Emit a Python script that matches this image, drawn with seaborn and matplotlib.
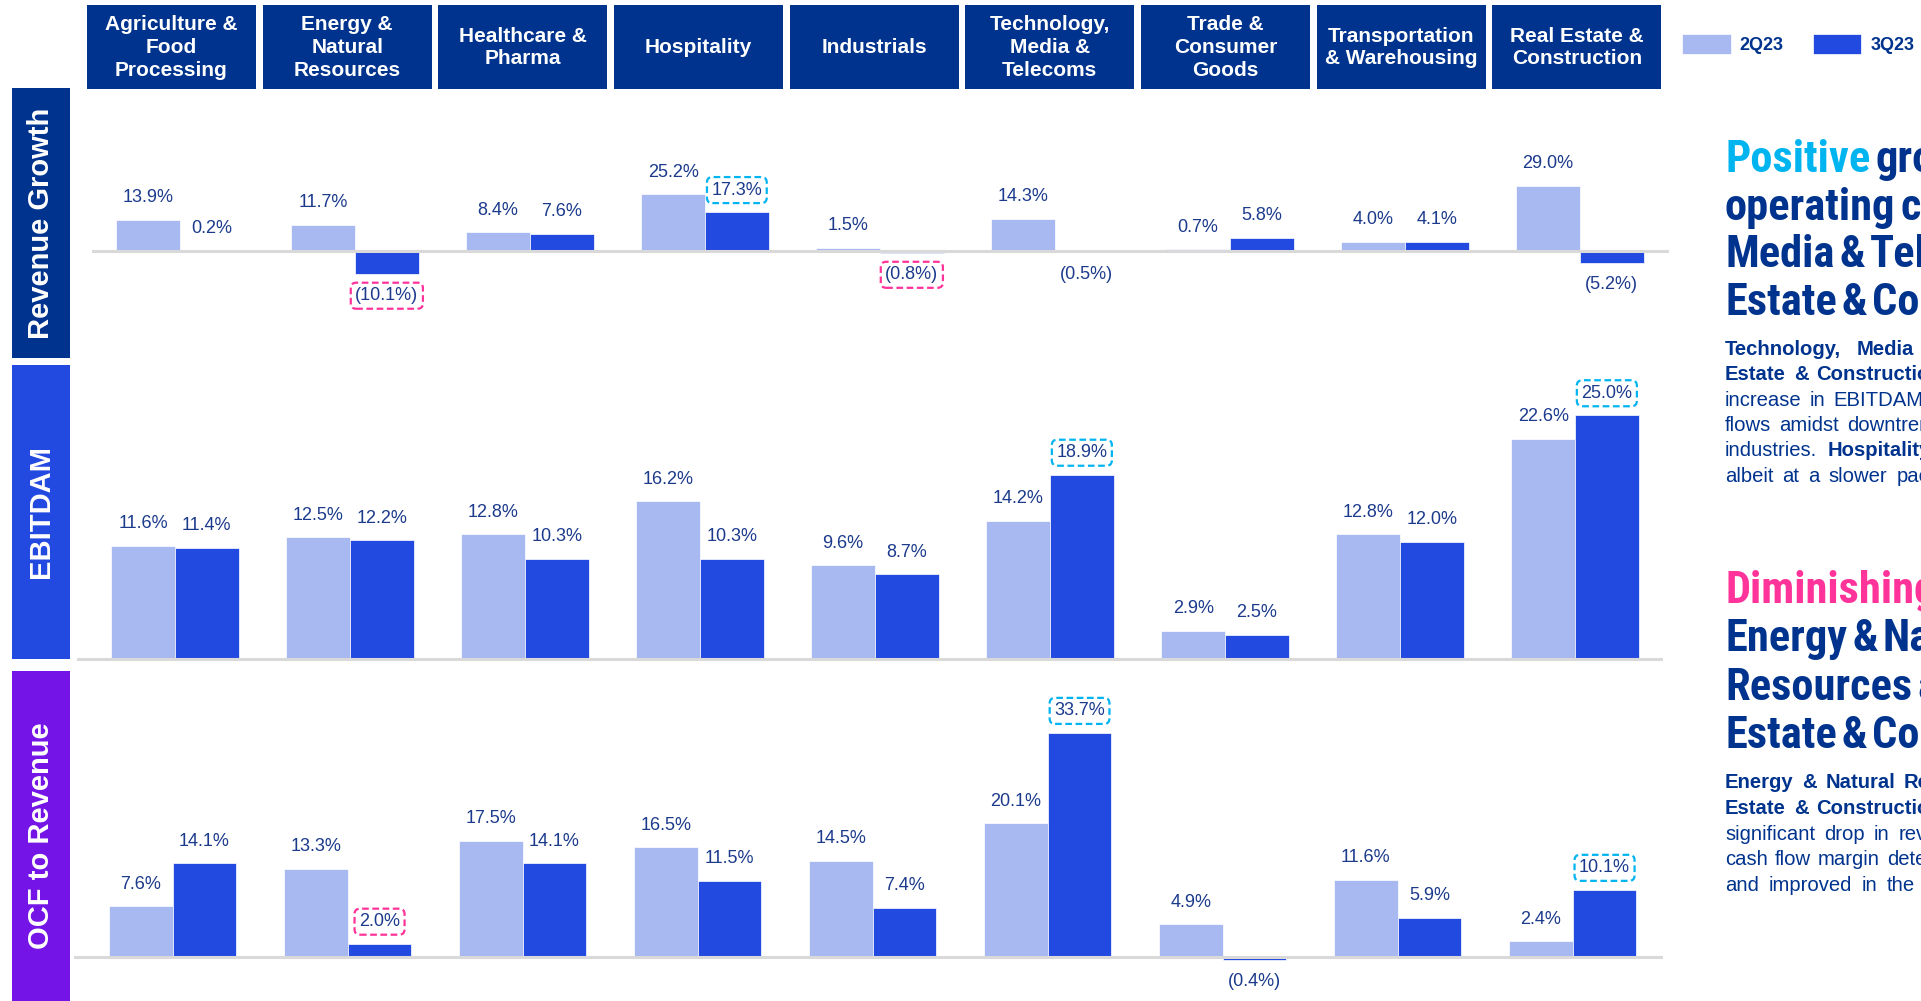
import numpy as np
import pandas as pd
import matplotlib
matplotlib.use("Agg")
import matplotlib.pyplot as plt
from matplotlib.patches import Rectangle
from matplotlib import font_manager
import seaborn as sns

# ---------------------------------------------------------------- data
industries = [
    "Agriculture &\nFood\nProcessing",
    "Energy &\nNatural\nResources",
    "Healthcare &\nPharma",
    "Hospitality",
    "Industrials",
    "Technology,\nMedia &\nTelecoms",
    "Trade &\nConsumer\nGoods",
    "Transportation\n& Warehousing",
    "Real Estate &\nConstruction",
]
periods = ["2Q23", "3Q23"]

revenue_2q23 = [13.9, 11.7, 8.4, 25.2, 1.5, 14.3, 0.7, 4.0, 29.0]
revenue_3q23 = [0.2, -10.1, 7.6, 17.3, -0.8, -0.5, 5.8, 4.1, -5.2]

ebitdam_2q23 = [11.6, 12.5, 12.8, 16.2, 9.6, 14.2, 2.9, 12.8, 22.6]
ebitdam_3q23 = [11.4, 12.2, 10.3, 10.3, 8.7, 18.9, 2.5, 12.0, 25.0]

ocf_2q23 = [7.6, 13.3, 17.5, 16.5, 14.5, 20.1, 4.9, 11.6, 2.4]
ocf_3q23 = [14.1, 2.0, 14.1, 11.5, 7.4, 33.7, -0.4, 5.9, 10.1]

panel_titles = ["Revenue Growth", "EBITDAM", "OCF to Revenue"]

# highlighted 3Q23 labels: (panel, industry index) -> kind
highlights = {
    (0, 1): "down", (0, 3): "up", (0, 4): "down",
    (1, 5): "up", (1, 8): "up",
    (2, 1): "down", (2, 5): "up", (2, 8): "up",
}

# ---------------------------------------------------------------- style
NAVY = "#00338D"
LIGHT = "#A8B8F0"
DARK = "#2249E0"
PURPLE = "#7414E6"
CYAN = "#00B4F0"
PINK = "#FF3399"
LABEL = "#1B3A8C"
BASE = "#D9D9D9"

sns.set_theme(style="white")
plt.rcParams["font.family"] = ["Liberation Sans", "DejaVu Sans"]

W, H = 1921, 1001
fig = plt.figure(figsize=(W / 100, H / 100), dpi=100)
fig.patch.set_facecolor("white")

# overlay in pixel coordinates for the frame elements
over = fig.add_axes([0, 0, 1, 1], zorder=0)
over.set_xlim(0, W)
over.set_ylim(H, 0)
over.axis("off")

# ---------------------------------------------------------------- header boxes
box_x0, box_step, box_w = 87, 175.65, 169
for i, name in enumerate(industries):
    x = box_x0 + box_step * i
    over.add_patch(Rectangle((x, 5), box_w, 84, fc=NAVY, ec="none"))
    lines = name.split("\n")
    n = len(lines)
    for j, line in enumerate(lines):
        yb = 45.5 + (j - (n - 1) / 2) * 22.7 + 7.5
        over.text(x + box_w / 2, yb, line, ha="center", va="baseline",
                  color="white", fontsize=15, fontweight="bold")

# ---------------------------------------------------------------- side labels
side_boxes = [(88, 358, NAVY), (365, 659, DARK), (671, 1001, PURPLE)]
for title, (t, b, c) in zip(panel_titles, side_boxes):
    over.add_patch(Rectangle((12, t), 58, b - t, fc=c, ec="none"))
    over.text(41, (t + b) / 2, title, rotation=90, ha="center", va="center",
              color="white", fontsize=21, fontweight="bold")

# ---------------------------------------------------------------- bar panels
panels = [
    dict(q2=revenue_2q23, q3=revenue_3q23, top=90, bottom=360, base=251,
         scale=2.25, left=92, right=1669, c0=180.0),
    dict(q2=ebitdam_2q23, q3=ebitdam_3q23, top=365, bottom=665, base=659,
         scale=9.75, left=77, right=1663, c0=175.0),
    dict(q2=ocf_2q23, q3=ocf_3q23, top=671, bottom=1001, base=957,
         scale=6.65, left=74, right=1663, c0=172.7),
]
step = 175.0


def fmt(v):
    return f"{v:.1f}%" if v >= 0 else f"({abs(v):.1f}%)"


axes = []
for p_idx, p in enumerate(panels):
    ax = fig.add_axes([p["left"] / W, 1 - p["bottom"] / H,
                       (p["right"] - p["left"]) / W,
                       (p["bottom"] - p["top"]) / H], zorder=1)
    ax.patch.set_alpha(0)
    df = pd.DataFrame({
        "industry": industries * 2,
        "period": [periods[0]] * len(industries) + [periods[1]] * len(industries),
        "value": list(p["q2"]) + list(p["q3"]),
    })
    sns.barplot(data=df, x="industry", y="value", hue="period",
                order=industries, hue_order=periods,
                palette=[LIGHT, DARK], saturation=1, width=0.728, gap=0,
                errorbar=None, edgecolor="white", linewidth=0.5,
                legend=(p_idx == 0), ax=ax)
    ax.set_xlim(-(p["c0"] - p["left"]) / step, (p["right"] - p["c0"]) / step)
    ax.set_ylim(-(p["bottom"] - p["base"]) / p["scale"],
                (p["base"] - p["top"]) / p["scale"])
    ax.axhline(0, color=BASE, lw=2.2, zorder=3)
    ax.set_xticks([])
    ax.set_yticks([])
    ax.set_xlabel("")
    ax.set_ylabel("")
    for s in ax.spines.values():
        s.set_visible(False)

    series = [p["q2"], p["q3"]]
    for s_idx, cont in enumerate(ax.containers[:2]):
        vals = series[s_idx]
        for bar in cont:
            xc = bar.get_x() + bar.get_width() / 2
            k = int(round(xc))
            v = vals[k]
            off = 22 if v >= 0 else -22
            bbox = None
            kind = highlights.get((p_idx, k)) if s_idx == 1 else None
            if kind:
                bbox = dict(boxstyle="round,pad=0.25,rounding_size=0.3",
                            fc="white", ec=CYAN if kind == "up" else PINK,
                            lw=1.6, ls=(0, (3, 1.6)))
            ax.annotate(fmt(v), (xc, v), xytext=(0, off),
                        textcoords="offset pixels", ha="center", va="center",
                        fontsize=13, color=LABEL, bbox=bbox, zorder=5)
    axes.append(ax)

# legend
handles, labels = axes[0].get_legend_handles_labels()
axes[0].get_legend().remove()
fig.legend(handles, labels, loc="center left",
           bbox_to_anchor=(1682 / W, 1 - 44 / H), ncol=2, frameon=False,
           prop=dict(weight="bold", size=13), labelcolor=NAVY,
           handlelength=2.7, handleheight=1.35, handletextpad=0.5,
           columnspacing=1.6, borderpad=0, borderaxespad=0)

# ---------------------------------------------------------------- commentary
names = {f.name for f in font_manager.fontManager.ttflist}
condensed = [f for f in font_manager.fontManager.ttflist
             if f.name == "DejaVu Sans" and f.stretch == "condensed"]
if "Liberation Sans Narrow" in names:
    head_font = dict(family="Liberation Sans Narrow")
elif "Roboto Condensed" in names:
    head_font = dict(family="Roboto Condensed")
elif condensed:
    head_font = dict(family="DejaVu Sans", stretch="condensed")
else:
    head_font = dict(family="Liberation Sans")

renderer = fig.canvas.get_renderer()


def draw_line(x0, y, phrases, gap, size, fontkw):
    """Lay out words left to right; the column runs off the right edge."""
    x = x0
    for phrase, bold, color in phrases:
        for word in phrase.split():
            if x >= W:
                return
            t = over.text(x, y, word, ha="left", va="baseline", color=color,
                          fontsize=size, fontweight="bold" if bold else "normal",
                          **fontkw)
            x += t.get_window_extent(renderer).width + gap


TX = 1725
headline_1 = [
    [("Positive", True, CYAN), ("growth in", True, NAVY)],
    [("operating cash flows in Technology,", True, NAVY)],
    [("Media & Telecoms and Real", True, NAVY)],
    [("Estate & Construction", True, NAVY)],
]
body_1 = [
    [("Technology, Media & Telecoms and Real", True, NAVY)],
    [("Estate & Construction", True, NAVY), ("recorded an", False, NAVY)],
    [("increase in EBITDAM and operating cash", False, NAVY)],
    [("flows amidst downtrend in revenue for most", False, NAVY)],
    [("industries.", False, NAVY), ("Hospitality", True, NAVY),
     ("recorded growth,", False, NAVY)],
    [("albeit at a slower pace.", False, NAVY)],
]
headline_2 = [
    [("Diminishing", True, PINK), ("growth for", True, NAVY)],
    [("Energy & Natural", True, NAVY)],
    [("Resources and Real", True, NAVY)],
    [("Estate & Construction", True, NAVY)],
]
body_2 = [
    [("Energy & Natural Resources and Real", True, NAVY)],
    [("Estate & Construction", True, NAVY), ("recorded a", False, NAVY)],
    [("significant drop in revenue, while operating", False, NAVY)],
    [("cash flow margin deteriorated for Energy", False, NAVY)],
    [("and improved in the Real Estate sector.", False, NAVY)],
]

for k, line in enumerate(headline_1):
    draw_line(TX, 172 + 47.7 * k, line, 5, 32, head_font)
gaps_1 = [15, 8, 8, 8, 10, 9]
for k, line in enumerate(body_1):
    draw_line(TX, 355 + 25.3 * k, line, gaps_1[k], 14.6,
              dict(family="Liberation Sans"))
for k, line in enumerate(headline_2):
    draw_line(TX, 603 + 48.3 * k, line, 5, 32, head_font)
gaps_2 = [8.5, 8, 9, 7, 9.5]
for k, line in enumerate(body_2):
    draw_line(TX, 788 + 25.8 * k, line, gaps_2[k], 14.6,
              dict(family="Liberation Sans"))

fig.savefig("out.png", dpi=100)
